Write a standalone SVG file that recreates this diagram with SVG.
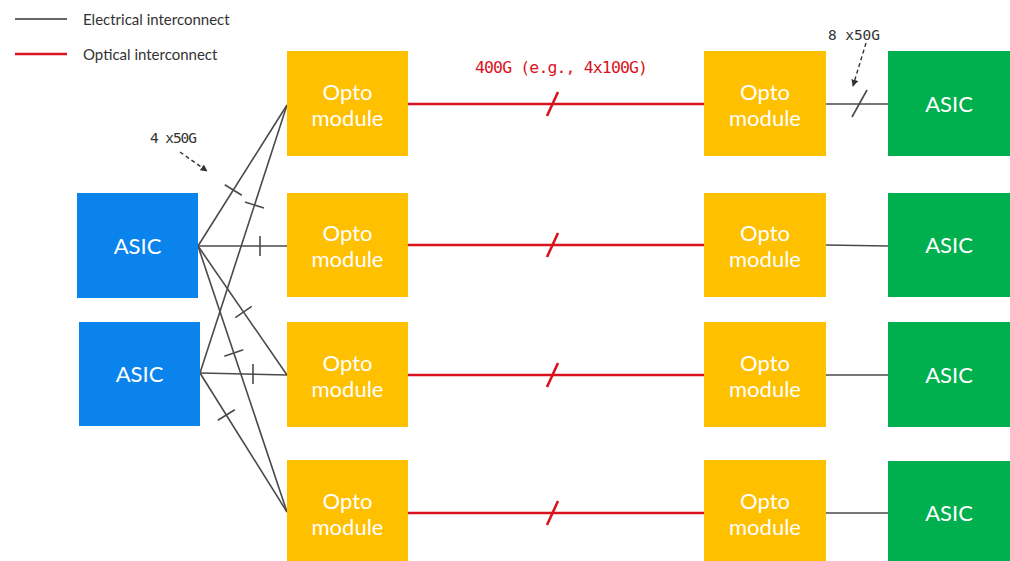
<svg xmlns="http://www.w3.org/2000/svg" width="1010" height="561" viewBox="0 0 1010 561">
<defs>
<style>
.opto{fill:#ffc000}
.blue{fill:#0a84ec}
.green{fill:#00b04f}
.bt{font-family:Lato,"Open Sans",sans-serif;font-size:22px;fill:#ffffff;text-anchor:middle}
.leg{font-family:Lato,"Open Sans",sans-serif;font-size:15px;fill:#333333}
.mono{font-family:"DejaVu Sans Mono",monospace;font-size:14.5px;fill:#333333}
.elec{stroke:#4a4a4a;stroke-width:1.6;fill:none}
.opt{stroke:#d9141e;stroke-width:2.6;fill:none}
.dash{stroke:#333333;stroke-width:1.4;stroke-dasharray:4 3;fill:none;marker-end:url(#ah)}
</style>
<marker id="ah" viewBox="0 0 10 10" refX="9" refY="5" markerWidth="7" markerHeight="7" orient="auto" markerUnits="userSpaceOnUse">
<path d="M0,0 L10,5 L0,10 z" fill="#333333"/>
</marker>
</defs>
<rect width="1010" height="561" fill="#ffffff"/>

<g id="legend">
<line x1="15" y1="19" x2="67" y2="19" stroke="#666666" stroke-width="2"/>
<text class="leg" x="83" y="25">Electrical interconnect</text>
<line x1="15" y1="54" x2="67" y2="54" stroke="#d9141e" stroke-width="2.6"/>
<text class="leg" x="83" y="60">Optical interconnect</text>
</g>

<g id="connectors">
<line class="elec" x1="198" y1="246" x2="287" y2="105"/>
<line class="elec" x1="198" y1="246" x2="287" y2="246"/>
<line class="elec" x1="198" y1="246" x2="287" y2="375"/>
<line class="elec" x1="198" y1="246" x2="287" y2="512"/>
<line class="elec" x1="200" y1="373" x2="287" y2="105"/>
<line class="elec" x1="200" y1="373" x2="287" y2="375"/>
<line class="elec" x1="200" y1="373" x2="287" y2="512"/>
<line class="elec" x1="224.8" y1="184.7" x2="241.8" y2="195.3"/>
<line class="elec" x1="245" y1="201.9" x2="264" y2="208.1"/>
<line class="elec" x1="260" y1="236" x2="260" y2="256"/>
<line class="elec" x1="253" y1="364" x2="253" y2="384"/>
<line class="elec" x1="235.3" y1="317.7" x2="251.7" y2="306.3"/>
<line class="elec" x1="224.3" y1="356.2" x2="243.3" y2="349.8"/>
<line class="elec" x1="217.8" y1="420.3" x2="234.8" y2="409.7"/>
<line class="opt" x1="408" y1="104" x2="704" y2="104"/>
<line class="opt" x1="408" y1="245" x2="704" y2="245"/>
<line class="opt" x1="408" y1="375" x2="704" y2="375"/>
<line class="opt" x1="408" y1="513" x2="704" y2="513"/>
<line class="opt" x1="547" y1="116" x2="558" y2="92"/>
<line class="opt" x1="547" y1="257" x2="558" y2="233"/>
<line class="opt" x1="547" y1="387" x2="558" y2="363"/>
<line class="opt" x1="547" y1="525" x2="558" y2="501"/>
<line class="elec" x1="826" y1="104" x2="888" y2="104"/>
<line class="elec" x1="826" y1="245" x2="888" y2="246"/>
<line class="elec" x1="826" y1="375" x2="888" y2="375"/>
<line class="elec" x1="826" y1="513" x2="888" y2="513"/>
<line class="elec" x1="852" y1="117" x2="867" y2="90"/>
<line class="dash" x1="180" y1="152" x2="207" y2="171"/>
<line class="dash" x1="866" y1="43" x2="853" y2="86"/>
</g>

<g id="labels">
<text class="mono" x="150" y="143" textLength="47">4 x50G</text>
<text class="mono" x="828" y="40" textLength="52">8 x50G</text>
<text x="475" y="73" font-family="DejaVu Sans Mono,monospace" font-size="16.5px" fill="#d9141e" textLength="173">400G (e.g., 4x100G)</text>
</g>

<g id="asic-l1"><rect class="blue" x="77" y="193" width="121" height="105"/><text class="bt" x="137.5" y="254">ASIC</text></g>
<g id="asic-l2"><rect class="blue" x="79" y="322" width="121" height="104"/><text class="bt" x="139.5" y="382">ASIC</text></g>

<g id="opto-l1"><rect class="opto" x="287" y="51" width="121" height="105"/><text class="bt" x="347.5" y="100">Opto</text><text class="bt" x="347.5" y="126">module</text></g>
<g id="opto-l2"><rect class="opto" x="287" y="193" width="121" height="104"/><text class="bt" x="347.5" y="241">Opto</text><text class="bt" x="347.5" y="267">module</text></g>
<g id="opto-l3"><rect class="opto" x="287" y="322" width="121" height="105"/><text class="bt" x="347.5" y="371">Opto</text><text class="bt" x="347.5" y="397">module</text></g>
<g id="opto-l4"><rect class="opto" x="287" y="460" width="121" height="105"/><text class="bt" x="347.5" y="509">Opto</text><text class="bt" x="347.5" y="535">module</text></g>

<g id="opto-r1"><rect class="opto" x="704" y="51" width="122" height="105"/><text class="bt" x="765" y="100">Opto</text><text class="bt" x="765" y="126">module</text></g>
<g id="opto-r2"><rect class="opto" x="704" y="193" width="122" height="104"/><text class="bt" x="765" y="241">Opto</text><text class="bt" x="765" y="267">module</text></g>
<g id="opto-r3"><rect class="opto" x="704" y="322" width="122" height="105"/><text class="bt" x="765" y="371">Opto</text><text class="bt" x="765" y="397">module</text></g>
<g id="opto-r4"><rect class="opto" x="704" y="460" width="122" height="105"/><text class="bt" x="765" y="509">Opto</text><text class="bt" x="765" y="535">module</text></g>

<g id="asic-r1"><rect class="green" x="888" y="51" width="122" height="105"/><text class="bt" x="949" y="112">ASIC</text></g>
<g id="asic-r2"><rect class="green" x="888" y="193" width="122" height="104"/><text class="bt" x="949" y="253">ASIC</text></g>
<g id="asic-r3"><rect class="green" x="888" y="322" width="122" height="105"/><text class="bt" x="949" y="383">ASIC</text></g>
<g id="asic-r4"><rect class="green" x="888" y="461" width="122" height="104"/><text class="bt" x="949" y="521">ASIC</text></g>
</svg>
